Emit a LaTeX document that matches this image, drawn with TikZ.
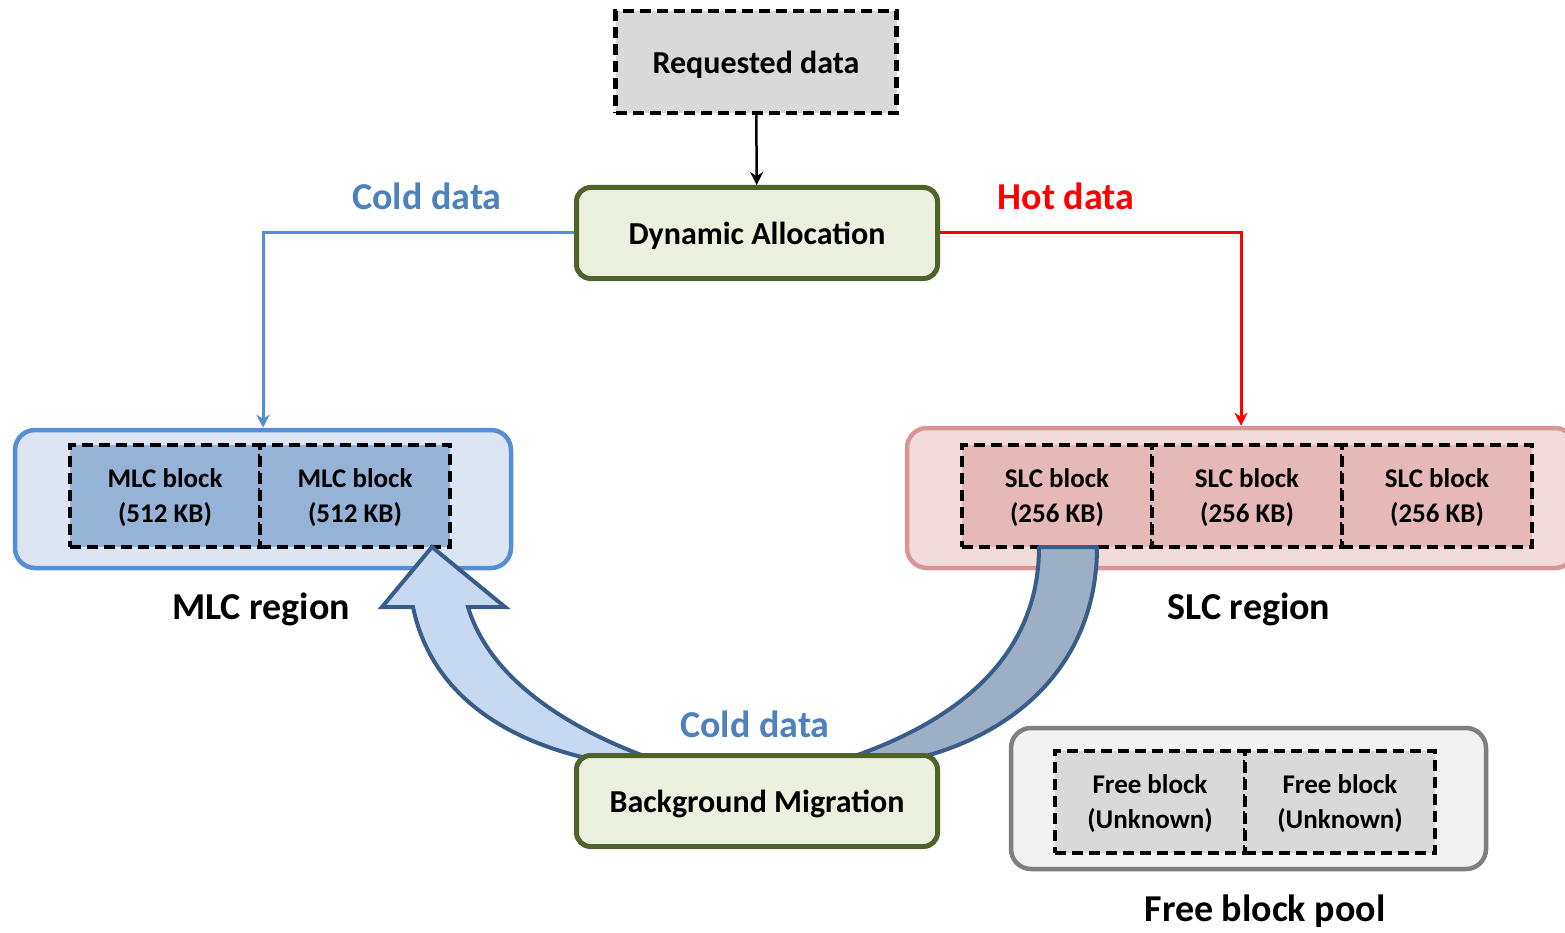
\documentclass[tikz,border=0pt]{standalone}
\usepackage{fontspec}
\setmainfont{Carlito}
\usetikzlibrary{positioning, arrows.meta, calc}

\definecolor{mlcline}{HTML}{558ED5}
\definecolor{mlcfill}{HTML}{DCE6F2}
\definecolor{mlcblk}{HTML}{95B3D7}
\definecolor{slcline}{HTML}{D99694}
\definecolor{slcfill}{HTML}{F2DCDB}
\definecolor{slcblk}{HTML}{E6B9B8}
\definecolor{poolline}{HTML}{7F7F7F}
\definecolor{poolfill}{HTML}{F2F2F2}
\definecolor{greyblk}{HTML}{D9D9D9}
\definecolor{ctrlline}{HTML}{4F6228}
\definecolor{ctrlfill}{HTML}{EBF1DE}
\definecolor{colddata}{HTML}{4F81BD}
\definecolor{migline}{HTML}{385D8A}
\definecolor{migfill}{HTML}{C6D9F1}
\definecolor{migband}{HTML}{9DAFC4}

\tikzset{
    blockbox/.style={draw=black, line width=4.5pt, dash pattern=on 11pt off 6pt,
        minimum width=190pt, minimum height=102pt, inner sep=0pt, outer sep=0pt,
        text depth=0pt, align=center, font=\fontsize{27}{35}\selectfont\bfseries},
    regionbox/.style={line width=4.5pt, rounded corners=20pt, inner sep=0pt},
    ctrlbox/.style={draw=ctrlline, fill=ctrlfill, line width=5pt, rounded corners=14pt,
        minimum width=361pt, minimum height=91pt, inner sep=0pt, text depth=0pt,
        font=\fontsize{32}{36}\selectfont\bfseries},
    biglabel/.style={font=\fontsize{38}{40}\selectfont\bfseries},
}

\begin{document}
\begin{tikzpicture}[x=1pt, y=-1pt, >=Stealth]
    \useasboundingbox (0,0) rectangle (1565,933);
    % regions
    \node[regionbox, draw=mlcline, fill=mlcfill, minimum width=496pt, minimum height=138pt]
        (mlcreg) at (263,499) {};
    \node[regionbox, draw=slcline, fill=slcfill, minimum width=668pt, minimum height=140pt]
        (slcreg) at (1241,498) {};
    \node[regionbox, draw=poolline, fill=poolfill, minimum width=475pt, minimum height=141pt]
        (poolreg) at (1248.5,798.5) {};
    % blocks
    \node[blockbox, fill=mlcblk] (mlc1) at (165,496) {MLC block\\(512 KB)};
    \node[blockbox, fill=mlcblk, right=0pt of mlc1] (mlc2) {MLC block\\(512 KB)};
    \node[blockbox, fill=slcblk] (slc1) at (1057,496) {SLC block\\(256 KB)};
    \node[blockbox, fill=slcblk, right=0pt of slc1] (slc2) {SLC block\\(256 KB)};
    \node[blockbox, fill=slcblk, right=0pt of slc2] (slc3) {SLC block\\(256 KB)};
    \node[blockbox, fill=greyblk] (free1) at (1150,802) {Free block\\(Unknown)};
    \node[blockbox, fill=greyblk, right=0pt of free1] (free2) {Free block\\(Unknown)};
    % region labels
    \node[biglabel] (mlclab) at (261,609) {MLC region};
    \node[biglabel] (slclab) at (1249,609) {SLC region};
    \node[biglabel] (poollab) at (1265,911) {Free block pool};
    % migration arrows
    \fill[migband, draw=migline, line width=4pt, line join=round]
        (1039,547) .. controls (1039,640) and (980,715) .. (843,760)
        -- (910,760) .. controls (1020,735) and (1097,660) .. (1097,547) -- cycle;
    \fill[migfill, draw=migline, line width=4pt, line join=miter]
        (432,547) -- (505,607) -- (468,607)
        .. controls (490,680) and (570,730) .. (655,760)
        -- (595,760) .. controls (500,740) and (430,690) .. (413,607)
        -- (382,607) -- cycle;
    % control boxes
    \node[draw=black, fill=greyblk, line width=4.5pt, dash pattern=on 11pt off 6pt,
        minimum width=281pt, minimum height=102pt, inner sep=0pt, text depth=0pt,
        font=\fontsize{32}{36}\selectfont\bfseries] (req) at (756,62) {Requested data};
    \node[ctrlbox] (alloc) at (757,233) {Dynamic Allocation};
    \node[ctrlbox] (migr) at (757,801) {Background Migration};
    % labels
    \node[biglabel, text=colddata] (coldl) at (427,196) {Cold data};
    \node[biglabel, text=red] (hotl) at (1066,196) {Hot data};
    \node[biglabel, text=colddata] (coldm) at (755,724) {Cold data};
    % connectors
    \draw[line width=2.5pt, arrows={-Stealth[length=13pt, width=13pt]}] (req) -- (alloc);
    \draw[mlcline, line width=3pt, arrows={-Stealth[length=13pt, width=13pt]}]
        (alloc.west) -| (mlcreg.north);
    \draw[red, line width=3pt, arrows={-Stealth[length=13pt, width=13pt]}]
        (alloc.east) -| (slcreg.north);
\end{tikzpicture}
\end{document}
